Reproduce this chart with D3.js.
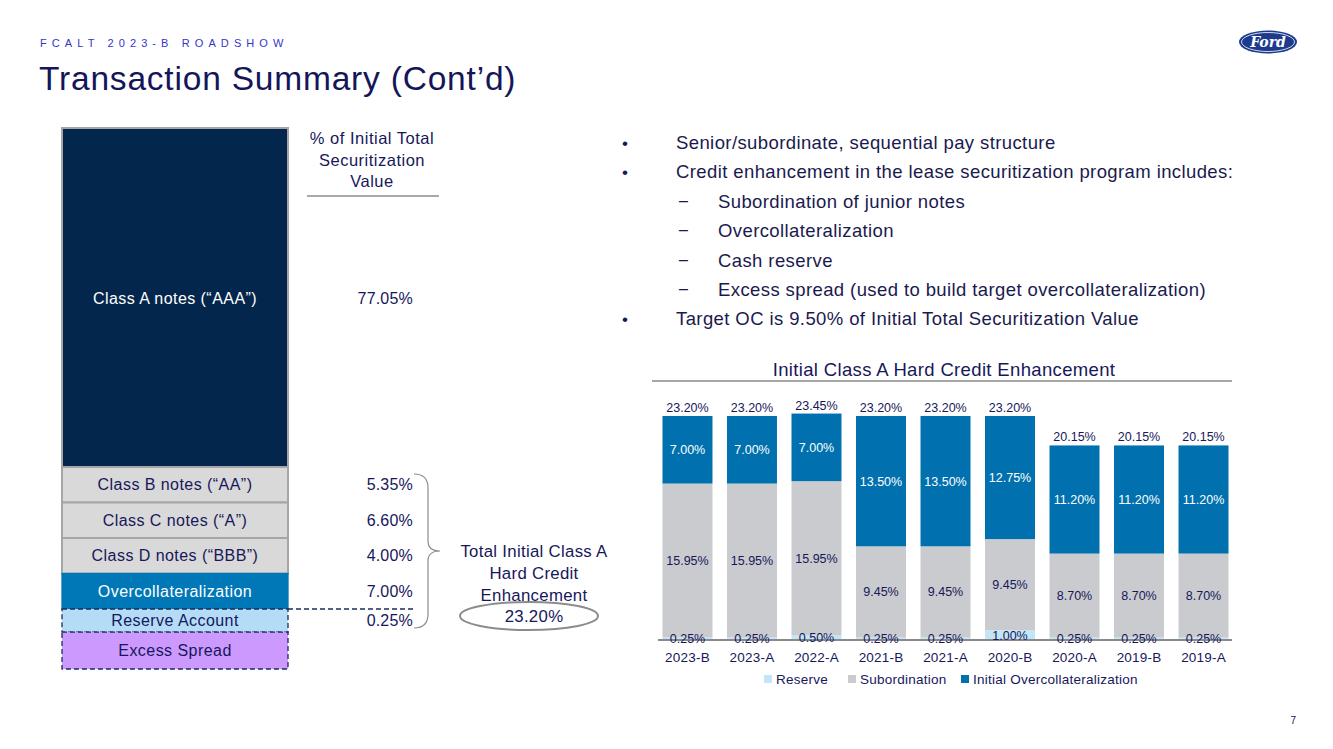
<!DOCTYPE html>
<html><head><meta charset="utf-8">
<script src="https://cdn.jsdelivr.net/npm/d3@7"></script>
<style>
body{margin:0;background:#fff;}
svg{display:block;font-family:"Liberation Sans",Arial,sans-serif;}
</style></head>
<body>
<svg id="c" width="1333" height="749"></svg>
<script>
// ---- data ----
const categories = ["2023-B","2023-A","2022-A","2021-B","2021-A","2020-B","2020-A","2019-B","2019-A"];
const reserve = [0.25,0.25,0.50,0.25,0.25,1.00,0.25,0.25,0.25];
const subordination = [15.95,15.95,15.95,9.45,9.45,9.45,8.70,8.70,8.70];
const overcollateral = [7.00,7.00,7.00,13.50,13.50,12.75,11.20,11.20,11.20];
const seriesNames = ["Reserve","Subordination","Initial Overcollateralization"];
const tranches = ["Class A notes (\u201CAAA\u201D)","Class B notes (\u201CAA\u201D)","Class C notes (\u201CA\u201D)","Class D notes (\u201CBBB\u201D)","Overcollateralization","Reserve Account","Excess Spread"];
const tranchePct = ["77.05%","5.35%","6.60%","4.00%","7.00%","0.25%",""];
const totalCE = "23.20%";
const bullets = [
  {lvl:0,t:"Senior/subordinate, sequential pay structure"},
  {lvl:0,t:"Credit enhancement in the lease securitization program includes:"},
  {lvl:1,t:"Subordination of junior notes"},
  {lvl:1,t:"Overcollateralization"},
  {lvl:1,t:"Cash reserve"},
  {lvl:1,t:"Excess spread (used to build target overcollateralization)"},
  {lvl:0,t:"Target OC is 9.50% of Initial Total Securitization Value"}
];

const svg = d3.select("#c");
const NAVY = "#17175a";

// ---- header ----
svg.append("text").attr("x",40).attr("y",47).attr("font-size",11).attr("letter-spacing","5.1px")
  .attr("fill","#3535c8").text("FCALT 2023-B ROADSHOW");
svg.append("text").attr("x",39).attr("y",90).attr("font-size",33.5).attr("letter-spacing","0.8px").attr("fill","#15155a")
  .text("Transaction Summary (Cont\u2019d)");
// Ford logo
const logo = svg.append("g").attr("transform","translate(1268,42)");
logo.append("ellipse").attr("rx",29).attr("ry",11.5).attr("fill","#1c3b8d");
logo.append("ellipse").attr("rx",26.5).attr("ry",9.5).attr("fill","none").attr("stroke","#fff").attr("stroke-width",0.8);
logo.append("text").attr("y",4.5).attr("text-anchor","middle").attr("font-size",14).attr("font-style","italic")
  .attr("font-weight","bold").attr("font-family","DejaVu Serif, serif").attr("fill","#fff").text("Ford");
svg.append("text").attr("x",1296).attr("y",724).attr("text-anchor","end").attr("font-size",10).attr("fill",NAVY).text("7");

// ---- left stack (schematic) ----
const weight = (d,i) => i===0 ? 9.55 : (i===5 ? 0.65 : (i===6 ? 1.04 : 1));
const rows = tranches.map((name,i)=>({name,pct:tranchePct[i],w:weight(name,i)}));
let acc = 0; rows.forEach(r=>{r.y0=acc; acc+=r.w; r.y1=acc;});
const ys = d3.scaleLinear().domain([0,acc]).range([128,669]);
const fills = ["#03264c","#d9d9d9","#d9d9d9","#d9d9d9","#0077b6","#b4dcf7","#cc99ff"];
const strokes = ["#a6a6a6","#a6a6a6","#a6a6a6","#a6a6a6","#0077b6","#1d2b5a","#1d2b5a"];
const txtCol = ["#fff",NAVY,NAVY,NAVY,"#fff",NAVY,NAVY];
const L = svg.append("g");
rows.forEach((r,i)=>{
  L.append("rect").attr("x",62).attr("y",ys(r.y0)).attr("width",226).attr("height",ys(r.y1)-ys(r.y0))
    .attr("fill",fills[i]).attr("stroke",strokes[i]).attr("stroke-width",i<4?2:1.3)
    .attr("stroke-dasharray",i>=5?"5,3":null);
  const cy = i===0 ? 298 : (ys(r.y0)+ys(r.y1))/2;
  L.append("text").attr("x",175).attr("y",cy+5.5).attr("text-anchor","middle").attr("font-size",16)
    .attr("letter-spacing","0.45px").attr("fill",txtCol[i]).text(r.name);
  if(r.pct) L.append("text").attr("x",413).attr("y",cy+5.5).attr("text-anchor","end").attr("font-size",16)
    .attr("letter-spacing","0.2px").attr("fill",NAVY).text(r.pct);
});
// dashed line from OC bottom
L.append("line").attr("x1",288).attr("x2",416).attr("y1",ys(rows[4].y1)).attr("y2",ys(rows[4].y1))
  .attr("stroke","#1d2b5a").attr("stroke-width",1.3).attr("stroke-dasharray","5,3");
// column header
["% of Initial Total","Securitization","Value"].forEach((t,i)=>
  L.append("text").attr("x",372).attr("y",144+i*21.5).attr("text-anchor","middle").attr("font-size",16.5)
   .attr("letter-spacing","0.5px").attr("fill",NAVY).text(t));
L.append("line").attr("x1",307).attr("x2",439).attr("y1",196).attr("y2",196).attr("stroke","#8c8c8c").attr("stroke-width",1.5);
// brace
const bt = 474, bb = 628, bm = 551, bx = 414, bw = 14;
L.append("path").attr("fill","none").attr("stroke","#8c8c8c").attr("stroke-width",1.2)
  .attr("d",`M${bx},${bt} Q${bx+bw},${bt} ${bx+bw},${bt+14} L${bx+bw},${bm-10} Q${bx+bw},${bm} ${bx+bw+12},${bm} Q${bx+bw},${bm} ${bx+bw},${bm+10} L${bx+bw},${bb-14} Q${bx+bw},${bb} ${bx},${bb}`);
["Total Initial Class A","Hard Credit","Enhancement"].forEach((t,i)=>
  L.append("text").attr("x",534).attr("y",557+i*22).attr("text-anchor","middle").attr("font-size",16.8)
   .attr("letter-spacing","0.3px").attr("fill",NAVY).text(t));
L.append("ellipse").attr("cx",529).attr("cy",616).attr("rx",69).attr("ry",14).attr("fill","none").attr("stroke","#8c8c8c").attr("stroke-width",2);
L.append("text").attr("x",534).attr("y",622).attr("text-anchor","middle").attr("font-size",16.8)
  .attr("letter-spacing","0.3px").attr("fill",NAVY).text(totalCE);

// ---- bullets ----
const B = svg.append("g").attr("font-size",18.5).attr("letter-spacing","0.4px").attr("fill","#1a1a4e");
bullets.forEach((b,i)=>{
  const y = 149 + i*29.4;
  if(b.lvl===0){
    B.append("text").attr("x",622).attr("y",y).attr("font-size",17).text("\u2022");
    B.append("text").attr("x",676).attr("y",y).text(b.t);
  } else {
    B.append("text").attr("x",678).attr("y",y).text("\u2212");
    B.append("text").attr("x",718).attr("y",y).text(b.t);
  }
});

// ---- stacked bar chart ----
const x = d3.scaleBand().domain(categories).range([655,1236]).paddingInner(0.225).paddingOuter(0.116);
const y = d3.scaleLinear().domain([0,25]).range([640,398.6]);
const colors = ["#c3e5f8","#c9cbcf","#0071ae"];
const labelCol = [NAVY,NAVY,"#fff"];
const data = categories.map((c,i)=>({cat:c, Reserve:reserve[i], Subordination:subordination[i], "Initial Overcollateralization":overcollateral[i]}));
const stack = d3.stack().keys(seriesNames)(data);
const C = svg.append("g");
stack.forEach((s,k)=>{
  C.append("g").selectAll("rect").data(s).join("rect")
    .attr("x",d=>x(d.data.cat)).attr("width",x.bandwidth())
    .attr("y",d=>y(d[1])).attr("height",d=>y(d[0])-y(d[1])).attr("fill",colors[k]);
});
// axis
const ax = C.append("g").attr("transform","translate(0,640)").call(d3.axisBottom(x).tickSize(0).tickPadding(12));
ax.select(".domain").attr("stroke","#8a8a8a").attr("stroke-width",2).attr("d","M658,0H1232");
ax.selectAll("text").attr("font-size",13.5).attr("letter-spacing","0.2px").attr("fill",NAVY).attr("font-family","Liberation Sans, Arial, sans-serif");
// segment labels
stack.forEach((s,k)=>{
  C.append("g").selectAll("text").data(s).join("text")
    .attr("x",d=>x(d.data.cat)+x.bandwidth()/2)
    .attr("y",d=>(y(d[0])+y(d[1]))/2 + 4.5)
    .attr("text-anchor","middle").attr("font-size",12.5).attr("fill",labelCol[k])
    .text(d=>(d[1]-d[0]).toFixed(2)+"%");
});
// totals
C.append("g").selectAll("text").data(stack[2]).join("text")
  .attr("x",d=>x(d.data.cat)+x.bandwidth()/2).attr("y",d=>y(d[1])-4)
  .attr("text-anchor","middle").attr("font-size",12.5).attr("fill",NAVY)
  .text(d=>d[1].toFixed(2)+"%");
// chart title
C.append("text").attr("x",944).attr("y",376).attr("text-anchor","middle").attr("font-size",18.5)
  .attr("letter-spacing","0.35px").attr("fill",NAVY)
  .text("Initial Class A Hard Credit Enhancement");
C.append("line").attr("x1",652).attr("x2",1232).attr("y1",381).attr("y2",381).attr("stroke","#8a8a8a").attr("stroke-width",1.5);
// legend
const legX = [764,848,961];
seriesNames.forEach((n,k)=>{
  C.append("rect").attr("x",legX[k]).attr("y",675).attr("width",8).attr("height",8).attr("fill",colors[k]);
  C.append("text").attr("x",legX[k]+12).attr("y",684).attr("font-size",13.5).attr("letter-spacing","0.25px").attr("fill",NAVY).text(n);
});
</script>
</body></html>
